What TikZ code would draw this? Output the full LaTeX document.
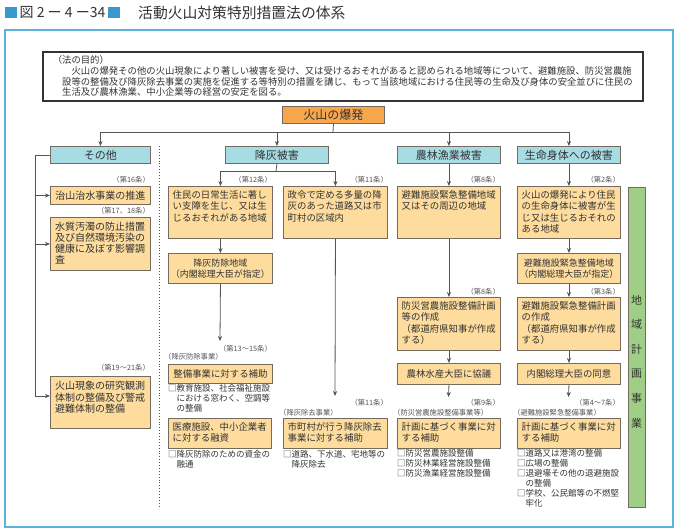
\documentclass[tikz,border=0pt]{standalone}
\usepackage{fontspec}
\setmainfont{Noto Sans CJK JP}
\usetikzlibrary{arrows.meta}
\definecolor{frameblue}{HTML}{5BB4DC}
\definecolor{sqblue}{HTML}{3A98CF}
\definecolor{boxy}{HTML}{FDDC9E}
\definecolor{boxo}{HTML}{F8A64C}
\definecolor{boxc}{HTML}{A8DCE4}
\definecolor{boxg}{HTML}{9FCF86}
\definecolor{edge}{HTML}{756A60}
\definecolor{txt}{HTML}{333333}
\definecolor{notec}{HTML}{555555}
\definecolor{lin}{HTML}{555555}
\newcommand\myfs[2]{\fontsize{#1}{#2}\selectfont}
\tikzset{
  bx/.style={draw=edge, line width=0.9pt, inner sep=0pt, anchor=north west, text=txt},
  ybox/.style={bx, fill=boxy},
  cbox/.style={bx, fill=boxc, font=\myfs{11}{13}, minimum height=17pt},
  btext/.style={anchor=north west, inner sep=0pt, align=left, text=txt, font=\myfs{9.4}{11.4}},
  ctext/.style={align=center, font=\myfs{9.4}{11.4}},
  note/.style={inner sep=0pt, text=notec, font=\myfs{7.3}{9}},
  bul/.style={anchor=north west, inner sep=0pt, align=left, text=txt, font=\myfs{8.5}{10}},
  ln/.style={draw=lin, line width=0.8pt},
  arr/.style={ln, -{Stealth[length=5pt,width=4.2pt]}},
}
\newcommand\YB[6]{%
  \node[ybox, minimum width=#4pt, minimum height=#5pt] (#1) at (#2,#3) {};
  \node[btext] (#1t) at ([xshift=4.5pt,yshift=-4.2pt]#1.north west) {#6};}
\newcommand\YC[6]{%
  \node[ybox, ctext, minimum width=#4pt, minimum height=#5pt] (#1) at (#2,#3) {#6};}
\begin{document}
\begin{tikzpicture}[x=1pt,y=-1pt]
\useasboundingbox (0,0) rectangle (680,531);
% title
\fill[sqblue] (5,7) rectangle (17,18);
\node[anchor=west, inner sep=0pt, text=txt, font=\myfs{14}{16}] (fig) at (19.5,12.5) {図 2 ー 4 ー34};
\fill[sqblue] (108,7) rectangle (120,18);
\node[anchor=west, inner sep=0pt, text=txt, font=\myfs{14.8}{16}] (ttl) at (138,12.5) {活動火山対策特別措置法の体系};
% frame
\draw[frameblue, line width=1.5pt] (5,30) rectangle (673,527);
% purpose
\node[draw=txt, line width=1.6pt, anchor=north west, minimum width=600pt, minimum height=49pt, inner sep=0pt] (purp) at (42,51) {};
\node[anchor=north west, inner sep=0pt, align=left, text=txt, font=\myfs{9.36}{10.4}] (purpt) at (52.6,55) {（法の目的）\\[1.3pt]
\hspace*{2em}火山の爆発その他の火山現象により著しい被害を受け、又は受けるおそれがあると認められる地域等について、避難施設、防災営農施\\
\hspace*{1em}設等の整備及び降灰除去事業の実施を促進する等特別の措置を講じ、もって当該地域における住民等の生命及び身体の安全並びに住民の\\
\hspace*{1em}生活及び農林漁業、中小企業等の経営の安定を図る。};
% top
\node[bx, fill=boxo, minimum width=102pt, minimum height=17pt, font=\myfs{12}{14}] (volc) at (282,106) {火山の爆発};
\coordinate (top) at (333,132);
\node[cbox, minimum width=100pt] (oth) at (50,146) {その他};
\node[cbox, minimum width=103pt] (kou) at (225,146) {降灰被害};
\node[cbox, minimum width=103pt] (nor) at (397,146) {農林漁業被害};
\node[cbox, minimum width=103pt] (sei) at (517,146) {生命身体への被害};
\draw[ln] (volc.south) -- (top);
\draw[ln] (top -| oth.north) -- (top -| sei.north);
\draw[arr] (top -| oth.north) -- (oth.north);
\draw[arr] (top -| kou.north) -- (kou.north);
\draw[arr] (top -| nor.north) -- (nor.north);
\draw[arr] (top -| sei.north) -- (sei.north);
% dotted separator
\coordinate (d1) at (159,146);
\coordinate (d2) at (159,506);
\draw[lin, dotted, line width=0.9pt] (d1) -- (d2);
% その他 column
\node[ybox, minimum width=100pt, minimum height=18pt, font=\myfs{10}{12}] (ot1) at (50,186) {治山治水事業の推進};
\node[ybox, minimum width=100pt, minimum height=53pt] (ot2) at (50,217) {};
\node[btext, font=\myfs{10}{11}] (ot2t) at ([xshift=5pt,yshift=-4.8pt]ot2.north west) {水質汚濁の防止措置\\及び自然環境汚染の\\健康に及ぼす影響調\\査};
\node[ybox, minimum width=100pt, minimum height=52pt] (ot3) at (50,376) {};
\node[btext, font=\myfs{10}{11.5}] (ot3t) at ([xshift=5pt,yshift=-5pt]ot3.north west) {火山現象の研究観測\\体制の整備及び警戒\\避難体制の整備};
\node[note, anchor=east] (a1) at (150,180) {（第16条）};
\node[note, anchor=east] (a2) at (150,211) {（第17、18条）};
\node[note, anchor=east] (a3) at (150,368) {（第19～21条）};
\coordinate (obx) at (35,396);
\draw[ln] (oth.west) -| (obx);
\draw[arr] (obx |- ot1.west) -- (ot1.west);
\draw[arr] (obx |- ot2.west) -- (ot2.west);
\draw[arr] (obx) -- (obx -| ot3.west);
% 降灰被害 column
\YB{k1}{168}{186}{104}{52}{住民の日常生活に著し\\い支障を生じ、又は生\\じるおそれがある地域}
\YB{k2}{283}{186}{104}{52}{政令で定める多量の降\\灰のあった道路又は市\\町村の区域内}
\node[ybox, align=center, font=\myfs{9}{11.5}, minimum width=104pt, minimum height=30pt] (k3) at (168,253) {降灰防除地域\\（内閣総理大臣が指定）};
\YC{k4}{168}{364}{104}{19}{整備事業に対する補助}
\YB{k5}{168}{418}{103}{30}{医療施設、中小企業者\\に対する融資}
\YB{k6}{283}{418}{104}{30}{市町村が行う降灰除去\\事業に対する補助}
\coordinate (ks) at (276,171);
\draw[ln] (kou.south) -- (ks);
\draw[ln] (ks -| k1.north) -- (ks -| k2.north);
\draw[arr] (ks -| k1.north) -- (k1.north);
\draw[arr] (ks -| k2.north) -- (k2.north);
\draw[arr] (k1.south) -- (k3.north);
\coordinate (k3e) at (220,341);
\draw[arr] (k3.south) -- (k3e);
\coordinate (k2e) at (335,396);
\draw[arr] (k2.south) -- (k2e);
\node[note, anchor=east] (a4) at (272,180) {（第12条）};
\node[note, anchor=east] (a5) at (388,180) {（第11条）};
\node[note, anchor=east] (a6) at (272,349) {（第13～15条）};
\node[note, anchor=west] (a7) at (164,357) {（降灰防除事業）};
\node[note, anchor=east] (a8) at (388,403) {（第11条）};
\node[note, anchor=west] (a9) at (279,413) {（降灰除去事業）};
\node[bul] (b1) at (168,384.5) {□教育施設、社会福祉施設\\\hspace*{1em}における窓わく、空調等\\\hspace*{1em}の整備};
\node[bul] (b2) at (168,450.5) {□降灰防除のための資金の\\\hspace*{1em}融通};
\node[bul] (b3) at (283,450.5) {□道路、下水道、宅地等の\\\hspace*{1em}降灰除去};
% 農林漁業被害 column
\YB{n1}{397}{186}{103}{52}{避難施設緊急整備地域\\又はその周辺の地域}
\YB{n2}{397}{297}{103}{53}{防災営農施設整備計画\\等の作成\\（都道府県知事が作成\\する）}
\YC{n3}{397}{363}{103}{21}{農林水産大臣に協議}
\YB{n4}{397}{418}{103}{30}{計画に基づく事業に対\\する補助}
\draw[arr] (nor.south) -- (n1.north);
\draw[arr] (n1.south) -- (n2.north);
\draw[arr] (n2.south) -- (n3.north);
\coordinate (n3e) at (448.5,397);
\draw[arr] (n3.south) -- (n3e);
\node[note, anchor=east] (a10) at (500,180) {（第8条）};
\node[note, anchor=east] (a11) at (500,292) {（第8条）};
\node[note, anchor=east] (a12) at (500,403) {（第9条）};
\node[note, anchor=west] (a13) at (393,413) {（防災営農施設整備事業等）};
\node[bul] (b4) at (397,448.7) {□防災営農施設整備\\□防災林業経営施設整備\\□防災漁業経営施設整備};
% 生命身体への被害 column
\YB{s1}{517}{186}{103}{52}{火山の爆発により住民\\の生命身体に被害が生\\じ又は生じるおそれの\\ある地域}
\node[ybox, align=center, font=\myfs{9}{11.5}, minimum width=103pt, minimum height=30pt] (s2) at (517,253) {避難施設緊急整備地域\\（内閣総理大臣が指定）};
\YB{s3}{517}{297}{103}{53}{避難施設緊急整備計画\\の作成\\（都道府県知事が作成\\する）}
\YC{s4}{517}{363}{103}{21}{内閣総理大臣の同意}
\YB{s5}{517}{418}{103}{30}{計画に基づく事業に対\\する補助}
\draw[arr] (sei.south) -- (s1.north);
\draw[arr] (s1.south) -- (s2.north);
\draw[arr] (s2.south) -- (s3.north);
\draw[arr] (s3.south) -- (s4.north);
\coordinate (s4e) at (568.5,397);
\draw[arr] (s4.south) -- (s4e);
\node[note, anchor=east] (a14) at (620,180) {（第2条）};
\node[note, anchor=east] (a15) at (620,292) {（第3条）};
\node[note, anchor=east] (a16) at (620,403) {（第4～7条）};
\node[note, anchor=west] (a17) at (513,413) {（避難施設緊急整備事業）};
\node[bul] (b5) at (517,448.7) {□道路又は港湾の整備\\□広場の整備\\□退避壕その他の退避施設\\\hspace*{1em}の整備\\□学校、公民館等の不燃堅\\\hspace*{1em}牢化};
% green
\node[bx, fill=boxg, minimum width=17pt, minimum height=320pt] (grn) at (628,187) {};
\node[inner sep=0pt, align=center, text=txt, font=\myfs{11}{24.6}] (grnt) at (636.5,361.5) {地\\域\\計\\画\\事\\業};
\end{tikzpicture}
\end{document}
